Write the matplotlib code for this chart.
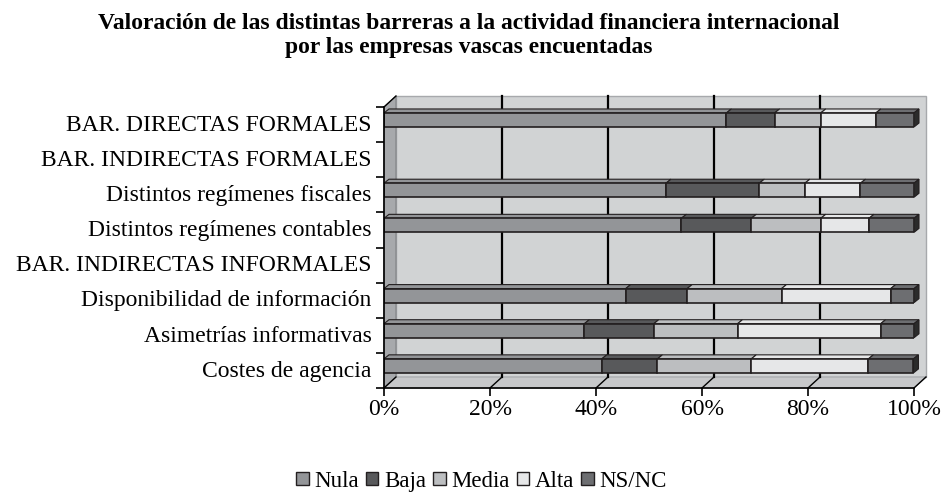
import numpy as np
import matplotlib
matplotlib.use("Agg")
import matplotlib.pyplot as plt
from matplotlib.patches import Polygon, Rectangle

# categorias de abajo hacia arriba
categorias = ["Costes de agencia", "Asimetrías informativas", "Disponibilidad de información",
              "BAR. INDIRECTAS INFORMALES", "Distintos regímenes contables",
              "Distintos regímenes fiscales", "BAR. INDIRECTAS FORMALES", "BAR. DIRECTAS FORMALES"]
nula = [41.1, 37.8, 45.6, 0, 56.1, 53.2, 0, 64.6]
baja = [10.5, 13.1, 11.6, 0, 13.2, 17.6, 0, 9.1]
media = [17.7, 15.8, 17.8, 0, 13.1, 8.6, 0, 8.7]
alta = [22.1, 27.0, 20.6, 0, 9.1, 10.5, 0, 10.4]
nsnc = [8.5, 6.3, 4.4, 0, 8.5, 10.1, 0, 7.2]
series = ["Nula", "Baja", "Media", "Alta", "NS/NC"]
colores = ["#939598", "#58595b", "#bcbec0", "#e6e7e8", "#6d6e71"]
xticks = [0, 20, 40, 60, 80, 100]

plt.rcParams['font.family'] = ['Liberation Serif', 'DejaVu Serif']

fig = plt.figure(figsize=(9.44, 4.95), dpi=100)
ax = fig.add_axes([384 / 944, 1 - 388 / 495, 530 / 944, 281 / 495])
ax.set_xlim(0, 100)
ax.set_ylim(0, 8)

# desplazamientos de la pared y de la profundidad de las barras (en unidades de datos)
wx, wy = 2.26, 0.313
bx, by = 0.94, 0.114
borde = "#231f20"

# paredes
ax.add_patch(Polygon([(wx, wy), (100 + wx, wy), (100 + wx, 8 + wy), (wx, 8 + wy)],
                     closed=True, fc="#d1d3d4", ec="#a7a9ac", lw=1, clip_on=False, zorder=0))
ax.add_patch(Polygon([(0, 0), (wx, wy), (wx, 8 + wy), (0, 8)],
                     closed=True, fc="#a7a9ac", ec="#808285", lw=0.8, clip_on=False, zorder=0.5))
ax.add_patch(Polygon([(0, 0), (100, 0), (100 + wx, wy), (wx, wy)],
                     closed=True, fc="#c7c8ca", ec="#a7a9ac", lw=0.8, clip_on=False, zorder=0.5))
for x in xticks[1:-1]:
    ax.plot([x + wx, x + wx], [wy, 8 + wy], color="black", lw=1.6, clip_on=False, zorder=1)
for x in xticks:
    ax.plot([x, x + wx], [0, wy], color="black", lw=1.0, clip_on=False, zorder=1)
ax.plot([0, wx], [8, 8 + wy], color="black", lw=1.0, clip_on=False, zorder=1)

# barras apiladas
ypos = np.arange(len(categorias)) + 0.63
alto = 0.40
izq = np.zeros(len(categorias))
datos = [nula, baja, media, alta, nsnc]
for vals, col, nom in zip(datos, colores, series):
    vals = np.array(vals, dtype=float)
    mask = vals > 0
    ax.barh(ypos[mask], vals[mask], left=izq[mask], height=alto, color=col,
            edgecolor=borde, linewidth=1.2, zorder=3, label=nom)
    for y, l, v in zip(ypos[mask], izq[mask], vals[mask]):
        top = y + alto / 2
        ax.add_patch(Polygon([(l, top), (l + v, top), (l + v + bx, top + by), (l + bx, top + by)],
                             closed=True, fc=col, ec=borde, lw=0.8, clip_on=False, zorder=2.5))
    izq = izq + vals

for y, total in zip(ypos, izq):
    if total > 0:
        b = y - alto / 2
        t = y + alto / 2
        ax.add_patch(Polygon([(total, b), (total + bx, b + by), (total + bx, t + by), (total, t)],
                             closed=True, fc="#2b2b2b", ec=borde, lw=0.8, clip_on=False, zorder=2.6))

# ejes
for s in ["top", "right"]:
    ax.spines[s].set_visible(False)
for s in ["left", "bottom"]:
    ax.spines[s].set_color("black")
    ax.spines[s].set_linewidth(1.2)
    ax.spines[s].set_zorder(4)
ax.set_facecolor("none")
ax.set_xticks(xticks)
ax.set_xticklabels([f"{x}%" for x in xticks], fontsize=17)
ax.tick_params(axis="x", length=6, width=1.2, pad=2)
ax.set_yticks(range(9))
ax.set_yticklabels([])
ax.tick_params(axis="y", which="major", length=6, width=1.2)
ax.set_yticks(np.arange(len(categorias)) + 0.55, minor=True)
ax.set_yticklabels(categorias, minor=True, fontsize=17)
ax.tick_params(axis="y", which="minor", length=0, pad=9)

fig.text(0.497, 0.928, "Valoración de las distintas barreras a la actividad financiera internacional\n"
         "por las empresas vascas encuentadas", ha="center", va="center",
         fontsize=16.9, fontweight="bold", linespacing=1.2)

handles = [Rectangle((0, 0), 1, 1, fc=c, ec=borde, lw=1) for c in colores]
fig.legend(handles, series, loc="center", bbox_to_anchor=(0.51, 0.028), ncol=5, frameon=False,
           fontsize=16.5, handlelength=0.55, handleheight=0.55, handletextpad=0.25, columnspacing=0.3,
           borderpad=0.1)

fig.savefig("out.png", dpi=100)
